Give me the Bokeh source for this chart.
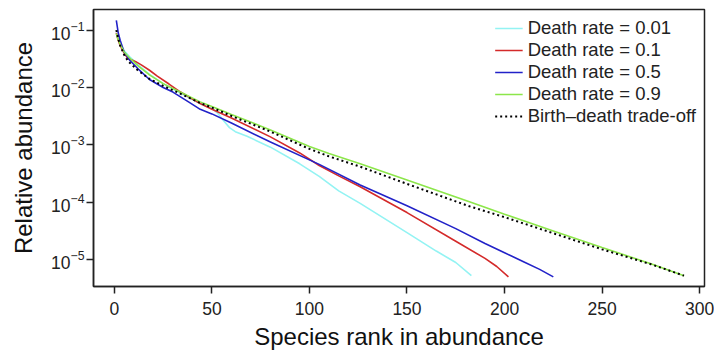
from bokeh.plotting import figure
from bokeh.models import Range1d, Legend, LegendItem, FixedTicker
from bokeh.embed import file_html
from bokeh.resources import INLINE

FONT = "Liberation Sans"

# Death rate = 0.01
rank_d001 = [1, 2, 3, 5, 8, 12, 18, 25, 35, 45, 50, 53, 56, 59, 62, 68, 80, 95, 105, 115, 126, 150, 165, 175, 183]
abund_d001 = [8.91e-2, 6.76e-2, 5.62e-2, 4.37e-2, 3.39e-2, 2.51e-2, 1.70e-2, 1.17e-2, 7.59e-3, 5.01e-3,
              4.37e-3, 3.55e-3, 2.63e-3, 2.00e-3, 1.70e-3, 1.41e-3, 9.12e-4, 4.68e-4, 2.82e-4, 1.58e-4,
              9.55e-5, 2.95e-5, 1.41e-5, 8.91e-6, 5.25e-6]

# Death rate = 0.1
rank_d01 = [1, 2, 3, 5, 7, 9, 11, 14, 18, 22, 28, 33, 40, 44, 50, 60, 80, 95, 105, 115, 126, 150, 175, 190, 196, 202]
abund_d01 = [8.91e-2, 6.61e-2, 5.37e-2, 3.98e-2, 3.16e-2, 3.02e-2, 2.82e-2, 2.45e-2, 2.00e-2, 1.58e-2,
             1.15e-2, 8.71e-3, 6.31e-3, 5.25e-3, 4.17e-3, 2.95e-3, 1.38e-3, 7.24e-4, 4.37e-4, 2.88e-4,
             1.86e-4, 6.61e-5, 2.09e-5, 1.05e-5, 7.59e-6, 5.01e-6]

# Death rate = 0.5
rank_d05 = [1, 2, 3, 5, 8, 12, 18, 25, 30, 38, 44, 50, 60, 80, 105, 126, 150, 175, 190, 200, 210, 218, 225]
abund_d05 = [1.48e-1, 8.91e-2, 6.61e-2, 4.17e-2, 2.95e-2, 2.14e-2, 1.38e-2, 1.00e-2, 8.32e-3, 5.62e-3,
             4.17e-3, 3.47e-3, 2.40e-3, 1.12e-3, 4.57e-4, 2.00e-4, 8.71e-5, 3.47e-5, 1.91e-5, 1.32e-5,
             9.12e-6, 6.76e-6, 5.01e-6]

# Death rate = 0.9
rank_d09 = [1, 2, 3, 5, 8, 12, 18, 25, 35, 44, 50, 60, 80, 100, 110, 126, 150, 182, 200, 225, 250, 275, 292]
abund_d09 = [8.71e-2, 6.76e-2, 5.62e-2, 4.17e-2, 3.24e-2, 2.40e-2, 1.66e-2, 1.17e-2, 7.94e-3, 5.62e-3,
             4.68e-3, 3.39e-3, 1.82e-3, 9.33e-4, 7.08e-4, 4.68e-4, 2.45e-4, 1.02e-4, 6.17e-5, 3.16e-5,
             1.62e-5, 8.51e-6, 5.25e-6]

# Birth-death trade-off
rank_bd = [1, 2, 3, 5, 7, 12, 18, 25, 34, 44, 50, 61, 78, 100, 110, 126, 150, 182, 200, 225, 250, 275, 292]
abund_bd = [1.00e-1, 7.08e-2, 5.37e-2, 3.72e-2, 2.88e-2, 2.00e-2, 1.41e-2, 1.07e-2, 7.76e-3, 5.37e-3,
            4.47e-3, 3.09e-3, 1.82e-3, 8.51e-4, 6.31e-4, 4.17e-4, 2.09e-4, 8.51e-5, 5.50e-5, 2.88e-5,
            1.51e-5, 8.32e-6, 5.25e-6]

labels = ["Death rate = 0.01", "Death rate = 0.1", "Death rate = 0.5",
          "Death rate = 0.9", "Birth\u2013death trade-off"]
x_ticks = [0, 50, 100, 150, 200, 250, 300]

p = figure(frame_width=611, frame_height=277, x_range=Range1d(-10.7, 302.5),
           y_range=Range1d(3.4e-6, 0.229), y_axis_type="log",
           output_backend="svg", toolbar_location=None,
           min_border_left=93, min_border_right=10, min_border_top=9, min_border_bottom=60)

p.grid.visible = False
p.outline_line_color = "#222222"
p.outline_line_width = 1.5
p.background_fill_color = "white"
p.border_fill_color = "white"

r1 = p.line(rank_d001, abund_d001, line_color="#93F3F3", line_width=1.6)
r2 = p.line(rank_d01, abund_d01, line_color="#D42A2A", line_width=1.6)
r3 = p.line(rank_d05, abund_d05, line_color="#2222C8", line_width=1.6)
r4 = p.line(rank_d09, abund_d09, line_color="#8CE64A", line_width=1.6)
r5 = p.line(rank_bd, abund_bd, line_color="black", line_width=2, line_dash="2 3")

p.xaxis.ticker = FixedTicker(ticks=x_ticks)
for ax in [p.xaxis[0], p.yaxis[0]]:
    ax.axis_line_color = "#222222"
    ax.axis_line_width = 1.5
    ax.major_tick_line_color = "#222222"
    ax.major_tick_line_width = 1.5
    ax.major_tick_out = 7
    ax.major_tick_in = 0
    ax.minor_tick_line_color = None
    ax.major_label_text_font = FONT
    ax.major_label_text_font_size = "17.5px"
    ax.major_label_text_color = "#222222"
    ax.axis_label_text_font = FONT
    ax.axis_label_text_font_size = "24px"
    ax.axis_label_text_font_style = "normal"
    ax.axis_label_text_color = "#111111"

p.xaxis.axis_label = "Species rank in abundance"
p.yaxis.axis_label = "Relative abundance"
p.xaxis.major_label_standoff = 8
p.xaxis.axis_label_standoff = 5
p.yaxis.major_label_standoff = 2
p.yaxis.axis_label_standoff = 11

legend = Legend(items=[LegendItem(label=l, renderers=[r]) for l, r in zip(labels, [r1, r2, r3, r4, r5])],
                location="top_right", margin=8, padding=0, spacing=0,
                glyph_width=28, glyph_height=22, label_height=22, label_standoff=5,
                label_text_font=FONT, label_text_font_size="18.5px", label_text_color="#222222",
                border_line_color=None, background_fill_alpha=0)
p.add_layout(legend)

open("out.html", "w").write(file_html(p, INLINE))
